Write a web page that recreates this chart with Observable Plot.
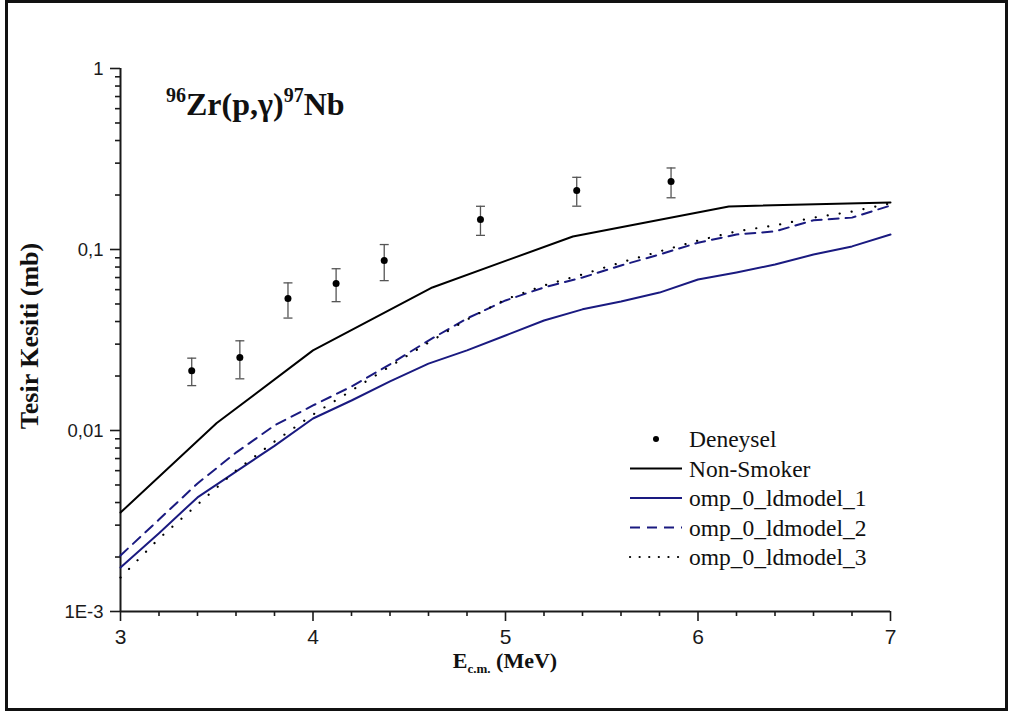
<!DOCTYPE html>
<html>
<head>
<meta charset="utf-8">
<script src="https://cdn.jsdelivr.net/npm/d3@7"></script>
<script src="https://cdn.jsdelivr.net/npm/@observablehq/plot@0.6"></script>
<style>
  html, body { margin: 0; padding: 0; background: #fff; }
  #wrap { position: relative; width: 1009px; height: 713px; overflow: hidden; }
  #border {
    position: absolute; left: 5px; top: 0px; width: 997px; height: 705px;
    border: 3px solid #111; pointer-events: none;
  }
</style>
</head>
<body>
<div id="wrap"><div id="border"></div></div>
<script>
// 96Zr(p,γ)97Nb cross section versus centre-of-mass energy

// Experimental data (Deneysel)
const expEnergy = [3.37, 3.62, 3.87, 4.12, 4.37, 4.87, 5.37, 5.86];
const expSigma  = [0.0214, 0.0253, 0.0536, 0.0649, 0.0869, 0.1465, 0.212, 0.2376];
const expError  = [0.0037, 0.0060, 0.0118, 0.0134, 0.0196, 0.0268, 0.0385, 0.0445];

// Non-Smoker calculation
const nonSmokerEnergy = [3.0, 3.5, 4.0, 4.62, 5.35, 6.16, 7.0];
const nonSmokerSigma  = [0.00352, 0.0110, 0.0277, 0.0617, 0.118, 0.173, 0.182];

// TALYS calculations, omp 0 with three level density models
const talysEnergy = [3.0, 3.2, 3.4, 3.6, 3.8, 4.0, 4.2, 4.4, 4.6, 4.8, 5.0,
                     5.2, 5.4, 5.6, 5.8, 6.0, 6.2, 6.4, 6.6, 6.8, 7.0];
const ldmodel1 = [0.00175, 0.00271, 0.00427, 0.00593, 0.00823, 0.01165, 0.01465,
                  0.0187, 0.0234, 0.0277, 0.0335, 0.0405, 0.0467, 0.0516, 0.0578,
                  0.0683, 0.0747, 0.0826, 0.0938, 0.104, 0.121];
const ldmodel2 = [0.00204, 0.00322, 0.00510, 0.00755, 0.01066, 0.01375, 0.0175,
                  0.0232, 0.0314, 0.0416, 0.0523, 0.0617, 0.0700, 0.0816, 0.0938,
                  0.109, 0.121, 0.126, 0.145, 0.150, 0.175];
const ldmodel3 = [0.00154, 0.00253, 0.00390, 0.00601, 0.00869, 0.01225, 0.01663,
                  0.0226, 0.0306, 0.0410, 0.0530, 0.0633, 0.0728, 0.0848, 0.0975,
                  0.112, 0.126, 0.136, 0.150, 0.162, 0.180];

// Axis ticks
const xTicks = [3, 4, 5, 6, 7];
const xTickLabels = ["3", "4", "5", "6", "7"];
const yTicks = [1, 0.1, 0.01, 0.001];
const yTickLabels = ["1", "0,1", "0,01", "1E-3"];

const xMinor = d3.range(3, 7.0001, 0.2).map(v => +v.toFixed(1)).filter(v => !xTicks.includes(v));
const yMinor = [];
for (const dec of [0.001, 0.01, 0.1]) for (let k = 2; k <= 9; k++) yMinor.push(+(dec * k).toPrecision(3));

const experiment = expEnergy.map((e, i) => ({e, s: expSigma[i], err: expError[i]}));
const nonSmoker = nonSmokerEnergy.map((e, i) => ({e, s: nonSmokerSigma[i]}));
const talys = (vals) => talysEnergy.map((e, i) => ({e, s: vals[i]}));

// horizontal cap for error bars
const capSymbol = { draw(context) { context.moveTo(-4.5, 0); context.lineTo(4.5, 0); } };

const navy = "#1a1a80";
const sans = "'Liberation Sans', Arial, sans-serif";

const chart = Plot.plot({
  width: 1009,
  height: 713,
  marginLeft: 120,
  marginRight: 119,
  marginTop: 68,
  marginBottom: 102,
  style: { fontFamily: sans, background: "transparent", color: "#1a1a1a" },
  x: { domain: [3, 7] },
  y: { type: "log", domain: [0.001, 1] },
  marks: [
    // tick marks
    Plot.axisX({ ticks: xMinor, tickSize: 5, tickFormat: () => "", strokeWidth: 1.6, label: null }),
    Plot.axisX({ ticks: xTicks, tickSize: 10, tickFormat: () => "", strokeWidth: 1.6, label: null }),
    Plot.axisY({ ticks: yMinor, tickSize: 5, tickFormat: () => "", strokeWidth: 1.6, label: null }),
    Plot.axisY({ ticks: yTicks, tickSize: 10, tickFormat: () => "", strokeWidth: 1.6, label: null }),
    // tick labels
    Plot.text(xTicks, { x: d => d, y: () => 0.001, text: (d, i) => xTickLabels[i], dy: 26,
                        fontSize: 21, fill: "#1a1a1a", fontFamily: sans }),
    Plot.text(yTicks, { x: () => 3, y: d => d, text: (d, i) => yTickLabels[i], dx: -17, dy: 1,
                        textAnchor: "end", fontSize: 18.5, fill: "#1a1a1a", fontFamily: sans }),
    // axis lines
    Plot.ruleY([0.001], { strokeWidth: 2 }),
    Plot.ruleX([3], { strokeWidth: 2 }),
    // calculations
    Plot.line(nonSmoker, { x: "e", y: "s", stroke: "#000", strokeWidth: 2 }),
    Plot.line(talys(ldmodel1), { x: "e", y: "s", stroke: navy, strokeWidth: 2 }),
    Plot.line(talys(ldmodel2), { x: "e", y: "s", stroke: navy, strokeWidth: 2, strokeDasharray: "10,7" }),
    Plot.line(talys(ldmodel3), { x: "e", y: "s", stroke: "#000", strokeWidth: 2.2, strokeDasharray: "0.1,12", strokeLinecap: "round" }),
    // experiment with error bars
    Plot.ruleX(experiment, { x: "e", y1: d => d.s - d.err, y2: d => d.s + d.err, stroke: "#555", strokeWidth: 1.3 }),
    Plot.dot(experiment, { x: "e", y: d => d.s - d.err, symbol: capSymbol, stroke: "#555", strokeWidth: 1.3 }),
    Plot.dot(experiment, { x: "e", y: d => d.s + d.err, symbol: capSymbol, stroke: "#555", strokeWidth: 1.3 }),
    Plot.dot(experiment, { x: "e", y: "s", r: 3.5, fill: "#000" })
  ]
});

document.getElementById("wrap").insertBefore(chart, document.getElementById("border"));

const svg = d3.select(chart);
const serif = "'Liberation Serif', 'Times New Roman', serif";

// reaction title
const title = svg.append("text")
  .attr("x", 166).attr("y", 115).attr("text-anchor", "start")
  .attr("font-family", serif).attr("font-weight", "bold").attr("font-size", 32).attr("fill", "#111");
title.append("tspan").attr("font-size", 20).attr("dy", -13).text("96");
title.append("tspan").attr("dy", 13).text("Zr(p,γ)");
title.append("tspan").attr("font-size", 20).attr("dy", -13).text("97");
title.append("tspan").attr("dy", 13).text("Nb");

// axis titles
const xTitle = svg.append("text")
  .attr("x", 505).attr("y", 668).attr("text-anchor", "middle")
  .attr("font-family", serif).attr("font-weight", "bold").attr("font-size", 22).attr("fill", "#111");
xTitle.append("tspan").text("E");
xTitle.append("tspan").attr("font-size", 13).attr("dy", 5).text("c.m.");
xTitle.append("tspan").attr("dy", -5).text(" (MeV)");

svg.append("text")
  .attr("transform", "translate(38,336) rotate(-90)").attr("text-anchor", "middle")
  .attr("font-family", serif).attr("font-weight", "bold").attr("font-size", 26).attr("fill", "#111")
  .text("Tesir Kesiti (mb)");

// legend
const legendItems = [
  { label: "Deneysel", kind: "dot" },
  { label: "Non-Smoker", stroke: "#000", dash: null },
  { label: "omp_0_ldmodel_1", stroke: navy, dash: null },
  { label: "omp_0_ldmodel_2", stroke: navy, dash: "10,7" },
  { label: "omp_0_ldmodel_3", stroke: "#000", dash: "0.1,9.5" }
];
const legend = svg.append("g").attr("font-family", serif).attr("font-size", 23.5)
  .attr("fill", "#111").attr("text-anchor", "start");
legendItems.forEach((item, i) => {
  const cy = 439 + i * 29.5;
  const dotted = item.dash && item.dash.startsWith("0.1");
  if (item.kind === "dot") {
    legend.append("circle").attr("cx", 656).attr("cy", cy).attr("r", 3).attr("fill", "#000");
  } else {
    legend.append("line").attr("x1", 630).attr("x2", 682).attr("y1", cy).attr("y2", cy)
      .attr("stroke", item.stroke).attr("stroke-width", dotted ? 2.2 : 2)
      .attr("stroke-linecap", dotted ? "round" : "butt")
      .attr("stroke-dasharray", item.dash);
  }
  legend.append("text").attr("x", 689).attr("y", cy + 8).text(item.label);
});
</script>
</body>
</html>
